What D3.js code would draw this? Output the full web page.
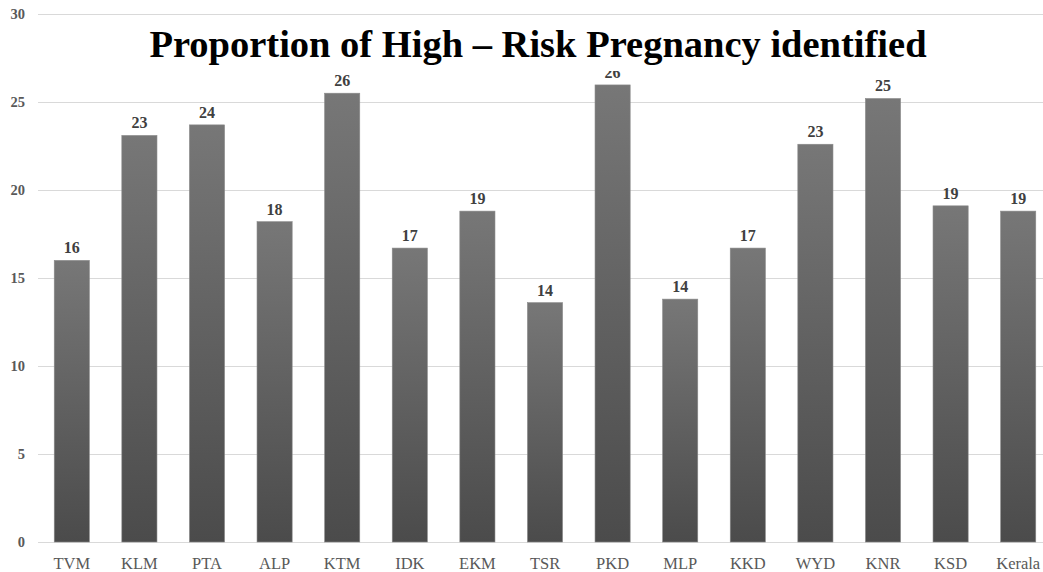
<!DOCTYPE html>
<html>
<head>
<meta charset="utf-8">
<script src="https://cdn.jsdelivr.net/npm/d3@7"></script>
<style>
  body { margin: 0; background: #fff; }
  svg { display: block; }
</style>
</head>
<body>
<div id="chart"></div>
<script>
var districts = [ 'TVM', 'KLM', 'PTA', 'ALP', 'KTM', 'IDK', 'EKM', 'TSR',
    'PKD', 'MLP', 'KKD', 'WYD', 'KNR', 'KSD', 'Kerala' ];

var proportion = [ 16.0, 23.1, 23.7, 18.2, 25.5, 16.7, 18.8, 13.6,
    25.97, 13.8, 16.7, 22.6, 25.2, 19.1, 18.8 ];

var yTicks = [ 0, 5, 10, 15, 20, 25, 30 ];

var chartTitle = 'Proportion of High \u2013 Risk Pregnancy identified';

var width = 1043, height = 572;
var serif = '"Liberation Serif", "Times New Roman", serif';

var svg = d3.select('#chart').append('svg')
    .attr('width', width)
    .attr('height', height);

var x = d3.scaleBand()
    .domain(districts)
    .range([38, 1052])
    .paddingInner(0.48)
    .paddingOuter(0.24);

var y = d3.scaleLinear()
    .domain([0, 30])
    .range([542, 14]);

// bar gradient, lighter on top
var grad = svg.append('defs').append('linearGradient')
    .attr('id', 'barGrad')
    .attr('x1', 0).attr('y1', 0)
    .attr('x2', 0).attr('y2', 1);
grad.append('stop').attr('offset', '0%').attr('stop-color', '#777777');
grad.append('stop').attr('offset', '100%').attr('stop-color', '#4b4b4b');

// gridlines
svg.append('g').selectAll('line')
    .data(yTicks)
    .enter().append('line')
    .attr('x1', 38).attr('x2', 1052)
    .attr('y1', function (d) { return Math.round(y(d)) + 0.5; })
    .attr('y2', function (d) { return Math.round(y(d)) + 0.5; })
    .attr('stroke', '#d9d9d9')
    .attr('stroke-width', 1);

// y axis labels
var yAxis = d3.axisLeft(y).tickValues(yTicks).tickSize(0).tickPadding(0);
var yg = svg.append('g')
    .attr('transform', 'translate(25,0)')
    .call(yAxis);
yg.select('.domain').remove();
yg.selectAll('text')
    .attr('font-family', serif)
    .attr('font-size', 14.5)
    .attr('font-weight', 'bold')
    .attr('fill', '#595959');

// bars
svg.append('g').selectAll('rect')
    .data(proportion)
    .enter().append('rect')
    .attr('x', function (d, i) { return x(districts[i]); })
    .attr('y', function (d) { return y(d); })
    .attr('width', x.bandwidth())
    .attr('height', function (d) { return y(0) - y(d); })
    .attr('fill', 'url(#barGrad)')
    .attr('stroke', '#8a8a8a')
    .attr('stroke-width', 0.6);

// value labels
svg.append('g').selectAll('text')
    .data(proportion)
    .enter().append('text')
    .attr('x', function (d, i) { return x(districts[i]) + x.bandwidth() / 2; })
    .attr('y', function (d) { return y(d) - 7; })
    .attr('text-anchor', 'middle')
    .attr('font-family', serif)
    .attr('font-size', 16)
    .attr('font-weight', 'bold')
    .attr('fill', '#404040')
    .text(function (d) { return Math.round(d); });

// x axis labels
var xAxis = d3.axisBottom(x).tickSize(0).tickPadding(0);
var xg = svg.append('g')
    .attr('transform', 'translate(0,0)')
    .call(xAxis);
xg.select('.domain').remove();
xg.selectAll('text')
    .attr('y', 569)
    .attr('dy', 0)
    .attr('font-family', serif)
    .attr('font-size', 16.5)
    .attr('fill', '#595959');

// title sits on a white box over the plot
svg.append('rect')
    .attr('x', 145).attr('y', 21)
    .attr('width', 788).attr('height', 50)
    .attr('fill', '#ffffff');

svg.append('text')
    .attr('x', 538)
    .attr('y', 57)
    .attr('text-anchor', 'middle')
    .attr('font-family', serif)
    .attr('font-size', 38.5)
    .attr('font-weight', 'bold')
    .attr('fill', '#000000')
    .text(chartTitle);
</script>
</body>
</html>
